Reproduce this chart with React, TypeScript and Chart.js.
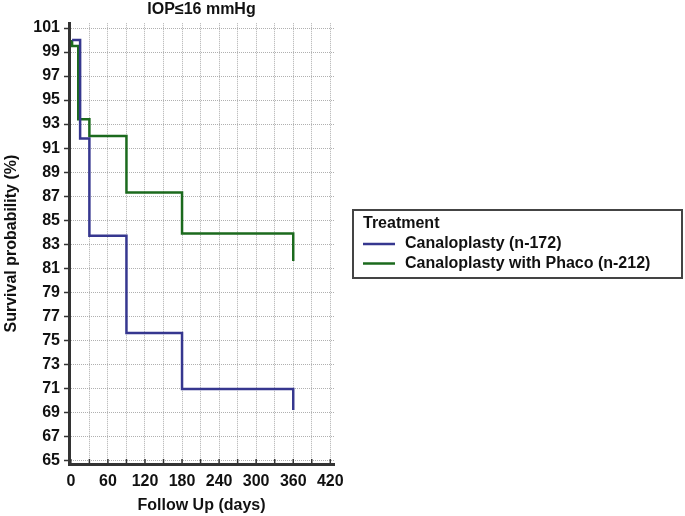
import React, { useEffect, useRef } from "react";
import { Chart, registerables } from "chart.js";

Chart.register(...registerables);

const titleText = "IOP≤16 mmHg";
const xTitle = "Follow Up (days)";
const yTitle = "Survival probability (%)";
const legendTitle = "Treatment";

const seriesNames = ["Canaloplasty (n-172)", "Canaloplasty with Phaco (n-212)"];
const seriesColors = ["#36378f", "#1b6a1d"];

const canaloDays = [2, 15, 30, 90, 180, 360];
const canaloSurv = [100, 91.8, 83.7, 75.6, 70.95, 69.2];

const phacoDays = [2, 2, 12, 30, 90, 180, 360];
const phacoSurv = [100, 99.5, 93.4, 92.0, 87.3, 83.9, 81.6];

const xTicks = [0, 30, 60, 90, 120, 150, 180, 210, 240, 270, 300, 330, 360, 390, 420];
const yTicks = [65, 67, 69, 71, 73, 75, 77, 79, 81, 83, 85, 87, 89, 91, 93, 95, 97, 99, 101];

const FONT = "'Liberation Sans', Arial, sans-serif";

const legendPlugin = {
  id: "customLegend",
  afterDraw(chart: any) {
    const ctx = chart.ctx;
    ctx.save();
    ctx.setLineDash([]);
    // inward x tick marks
    const xs = chart.scales.x;
    const bottom = chart.chartArea.bottom;
    ctx.strokeStyle = "#333";
    ctx.lineWidth = 1.5;
    xTicks.forEach((v) => {
      const px = xs.getPixelForValue(v);
      ctx.beginPath();
      ctx.moveTo(px, bottom - 1);
      ctx.lineTo(px, bottom - 5);
      ctx.stroke();
    });
    // legend box
    const bx = 353, by = 210, bw = 329, bh = 68;
    ctx.strokeStyle = "#444";
    ctx.lineWidth = 2;
    ctx.strokeRect(bx, by, bw, bh);
    ctx.fillStyle = "#111";
    ctx.font = `bold 16px ${FONT}`;
    ctx.textBaseline = "middle";
    ctx.textAlign = "left";
    ctx.fillText(legendTitle, 363, 224);
    chart.data.datasets.forEach((ds: any, i: number) => {
      const y = 244 + i * 19.5;
      ctx.strokeStyle = ds.borderColor;
      ctx.lineWidth = 2.5;
      ctx.beginPath();
      ctx.moveTo(363, y);
      ctx.lineTo(395, y);
      ctx.stroke();
      ctx.fillStyle = "#111";
      ctx.fillText(ds.label, 405, y);
    });
    ctx.restore();
  },
};

export default function App() {
  const ref = useRef<HTMLCanvasElement>(null);
  useEffect(() => {
    const canvas = ref.current;
    if (!canvas) return;
    const mk = (days: number[], vals: number[]) => days.map((d, i) => ({ x: d, y: vals[i] }));
    const chart = new Chart(canvas, {
      type: "line",
      data: {
        datasets: [
          {
            label: seriesNames[0],
            data: mk(canaloDays, canaloSurv),
            borderColor: seriesColors[0],
            borderWidth: 2.5,
            stepped: "before",
            pointRadius: 0,
            fill: false,
          },
          {
            label: seriesNames[1],
            data: mk(phacoDays, phacoSurv),
            borderColor: seriesColors[1],
            borderWidth: 2.5,
            stepped: "before",
            pointRadius: 0,
            fill: false,
          },
        ],
      },
      options: {
        animation: false,
        responsive: false,
        devicePixelRatio: 1,
        layout: { padding: { left: 0, right: 351, top: 0, bottom: 0 } },
        plugins: {
          legend: { display: false },
          tooltip: { enabled: false },
          title: {
            display: true,
            text: titleText,
            fullSize: false,
            color: "#111",
            font: { family: FONT, size: 16, weight: "bold" },
            padding: { top: 0, bottom: 4 },
          },
        },
        scales: {
          x: {
            type: "linear",
            min: -3,
            max: 426,
            afterBuildTicks: (s: any) => {
              s.ticks = xTicks.map((v) => ({ value: v }));
            },
            afterFit: (s: any) => {
              s.height = 52;
            },
            ticks: {
              autoSkip: false,
              maxRotation: 0,
              padding: 8,
              color: "#111",
              font: { family: FONT, size: 16, weight: "bold" },
              callback: (v: any) => (Number(v) % 60 === 0 ? String(v) : ""),
            },
            grid: {
              color: "#b0b0b0",
              lineWidth: 1,
              drawTicks: false,
            },
            border: { display: true, color: "#333", width: 3, dash: [1, 1] },
            title: {
              display: true,
              text: xTitle,
              color: "#111",
              font: { family: FONT, size: 16, weight: "bold" },
              padding: { top: 0, bottom: 0.5 },
            },
          },
          y: {
            type: "linear",
            min: 64.7,
            max: 101.4,
            afterBuildTicks: (s: any) => {
              s.ticks = yTicks.map((v) => ({ value: v }));
            },
            afterFit: (s: any) => {
              s.width = 69;
            },
            ticks: {
              autoSkip: false,
              padding: 4,
              color: "#111",
              font: { family: FONT, size: 16, weight: "bold" },
            },
            grid: {
              color: "#b0b0b0",
              lineWidth: 1,
              drawTicks: true,
              tickLength: 5,
              tickColor: "#333",
              tickWidth: 1.5,
              tickBorderDash: [],
            },
            border: { display: true, color: "#333", width: 3, dash: [1, 1] },
            title: {
              display: true,
              text: yTitle,
              color: "#111",
              font: { family: FONT, size: 16, weight: "bold" },
              padding: { top: 2.4, bottom: 4 },
            },
          },
        },
      },
      plugins: [legendPlugin],
    });
    return () => chart.destroy();
  }, []);
  return (
    <div style={{ position: "fixed", left: 0, top: 0, width: 685, height: 516, background: "#fff" }}>
      <canvas ref={ref} width={685} height={516} style={{ width: 685, height: 516 }} />
    </div>
  );
}
